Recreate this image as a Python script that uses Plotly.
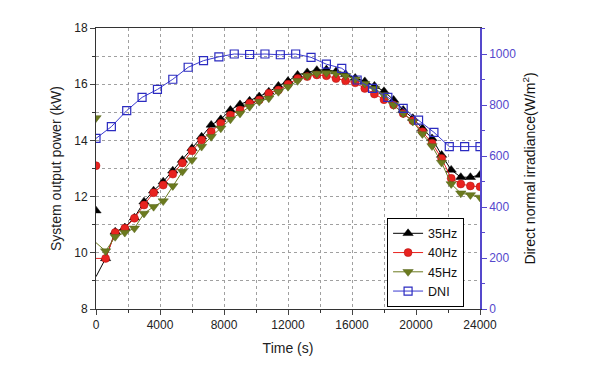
import plotly.graph_objects as go

# ---- data ----
time_s = [600 * k for k in range(41)]
p35 = [9.15, 9.80, 10.75, 10.90, 11.25, 11.82, 12.21, 12.53, 12.92, 13.30, 13.72,
       14.13, 14.55, 14.75, 15.08, 15.28, 15.41, 15.56, 15.73, 15.94, 16.11,
       16.33, 16.42, 16.50, 16.52, 16.45, 16.35, 16.22, 16.10, 15.94, 15.75,
       15.44, 15.08, 14.79, 14.43, 14.07, 13.48, 12.95, 12.69, 12.69, 12.77]
p40 = [9.80, 9.80, 10.72, 10.87, 11.23, 11.70, 12.14, 12.41, 12.80, 13.20, 13.63,
       14.01, 14.31, 14.61, 14.90, 15.08, 15.32, 15.44, 15.68, 15.79, 16.00,
       16.20, 16.27, 16.33, 16.30, 16.20, 16.12, 16.05, 15.85, 15.65, 15.45,
       15.26, 14.96, 14.70, 14.31, 13.90, 13.36, 12.65, 12.45, 12.38, 12.35]
p45 = [10.36, 10.06, 10.57, 10.72, 10.87, 11.40, 11.64, 11.84, 12.38, 12.89, 13.30,
       13.78, 14.13, 14.43, 14.75, 14.96, 15.20, 15.38, 15.50, 15.73, 15.91,
       16.12, 16.30, 16.38, 16.40, 16.38, 16.30, 16.18, 16.02, 15.85, 15.62,
       15.26, 14.96, 14.67, 14.23, 13.80, 13.21, 12.45, 12.12, 12.06, 11.97]
# markers drawn at t = 0 for each frequency series
p_t0_markers = {"35Hz": 11.5, "40Hz": 13.1, "45Hz": 14.8}

dni_time = [960 * j for j in range(26)]
dni = [669, 715, 778, 830, 861, 901, 948, 974, 989, 1000, 998, 1000, 997,
       1000, 987, 960, 944, 898, 865, 830, 787, 741, 693, 637, 637, 637]

x_ticks = [0, 4000, 8000, 12000, 16000, 20000, 24000]
x_tick_labels = ["0", "4000", "8000", "12000", "16000", "20000", "24000"]
y_ticks = [8, 10, 12, 14, 16, 18]
y2_ticks = [0, 200, 400, 600, 800, 1000]

FONT = "Liberation Sans, Arial, sans-serif"
AX2 = "#5548cc"

series = [
    ("35Hz", p35, "black", "black", "triangle-up", 9),
    ("40Hz", p40, "#e8231f", "#b01010", "circle", 8),
    ("45Hz", p45, "#6b7a1e", "#55621a", "triangle-down", 9),
]

fig = go.Figure()
for name, vals, lc, mc_edge, sym, sz in series:
    fig.add_trace(go.Scatter(x=time_s[:2], y=vals[:2], mode="lines",
                             line=dict(color=lc, width=1), showlegend=False,
                             hoverinfo="skip"))
    fig.add_trace(go.Scatter(x=[time_s[0]], y=[p_t0_markers[name]], mode="markers",
                             marker=dict(symbol=sym, size=sz, color=lc,
                                         line=dict(color=mc_edge, width=0.5)),
                             showlegend=False))
    fig.add_trace(go.Scatter(x=time_s[1:], y=vals[1:], mode="lines+markers",
                             name=name, line=dict(color=lc, width=1),
                             marker=dict(symbol=sym, size=sz, color=lc,
                                         line=dict(color=mc_edge, width=0.5))))

fig.add_trace(go.Scatter(x=dni_time, y=dni, mode="lines+markers", name="DNI",
                         yaxis="y2", line=dict(color="#3a3acf", width=1),
                         marker=dict(symbol="square-open", size=8, color="#2b2bc0",
                                     line=dict(width=1.2))))

grid = dict(showgrid=True, gridcolor="#a0a0a0", griddash="dot", gridwidth=1)

fig.update_layout(
    width=592, height=360,
    margin=dict(l=88, r=120, t=20, b=59, autoexpand=False),
    paper_bgcolor="white", plot_bgcolor="white",
    font=dict(family=FONT, size=12, color="#222222"),
    showlegend=True,
    legend=dict(x=0.758, y=0.325, xanchor="left", yanchor="top",
                bordercolor="black", borderwidth=1, bgcolor="white",
                font=dict(size=12.5, color="#111111"), tracegroupgap=0,
                itemwidth=30),
    xaxis=dict(range=[0, 24000], tickvals=x_ticks, ticktext=x_tick_labels,
               ticks="outside", ticklen=5, automargin=False,
               showline=True, linecolor="#333333", linewidth=1, mirror=True,
               zeroline=False, title=dict(text="Time (s)", font=dict(size=14),
                                          standoff=11),
               minor=dict(dtick=2000, ticks="outside", ticklen=3, tickcolor="#333333",
                          showgrid=True, gridcolor="#a0a0a0", griddash="dot"),
               **grid),
    yaxis=dict(range=[8, 18], tickvals=y_ticks, ticks="outside", ticklen=5,
               automargin=False,
               showline=True, linecolor="#333333", linewidth=1, zeroline=False,
               title=dict(text="System output power (kW)", font=dict(size=14),
                          standoff=9),
               minor=dict(dtick=1, ticks="outside", ticklen=3, tickcolor="#333333",
                          showgrid=True, gridcolor="#a0a0a0", griddash="dot"),
               **grid),
    yaxis2=dict(range=[0, 1102], tickvals=y2_ticks, overlaying="y", side="right",
                ticks="outside", ticklen=5, tickcolor=AX2, automargin=False,
                showline=True, linecolor=AX2, linewidth=1.5, zeroline=False,
                showgrid=False, tickfont=dict(color=AX2),
                title=dict(text="Direct normal irradiance(W/m<sup>2</sup>)",
                           font=dict(size=14, color="#111111"), standoff=10),
                minor=dict(dtick=100, ticks="outside", ticklen=3, tickcolor=AX2)),
)

fig.write_html("out.html")
